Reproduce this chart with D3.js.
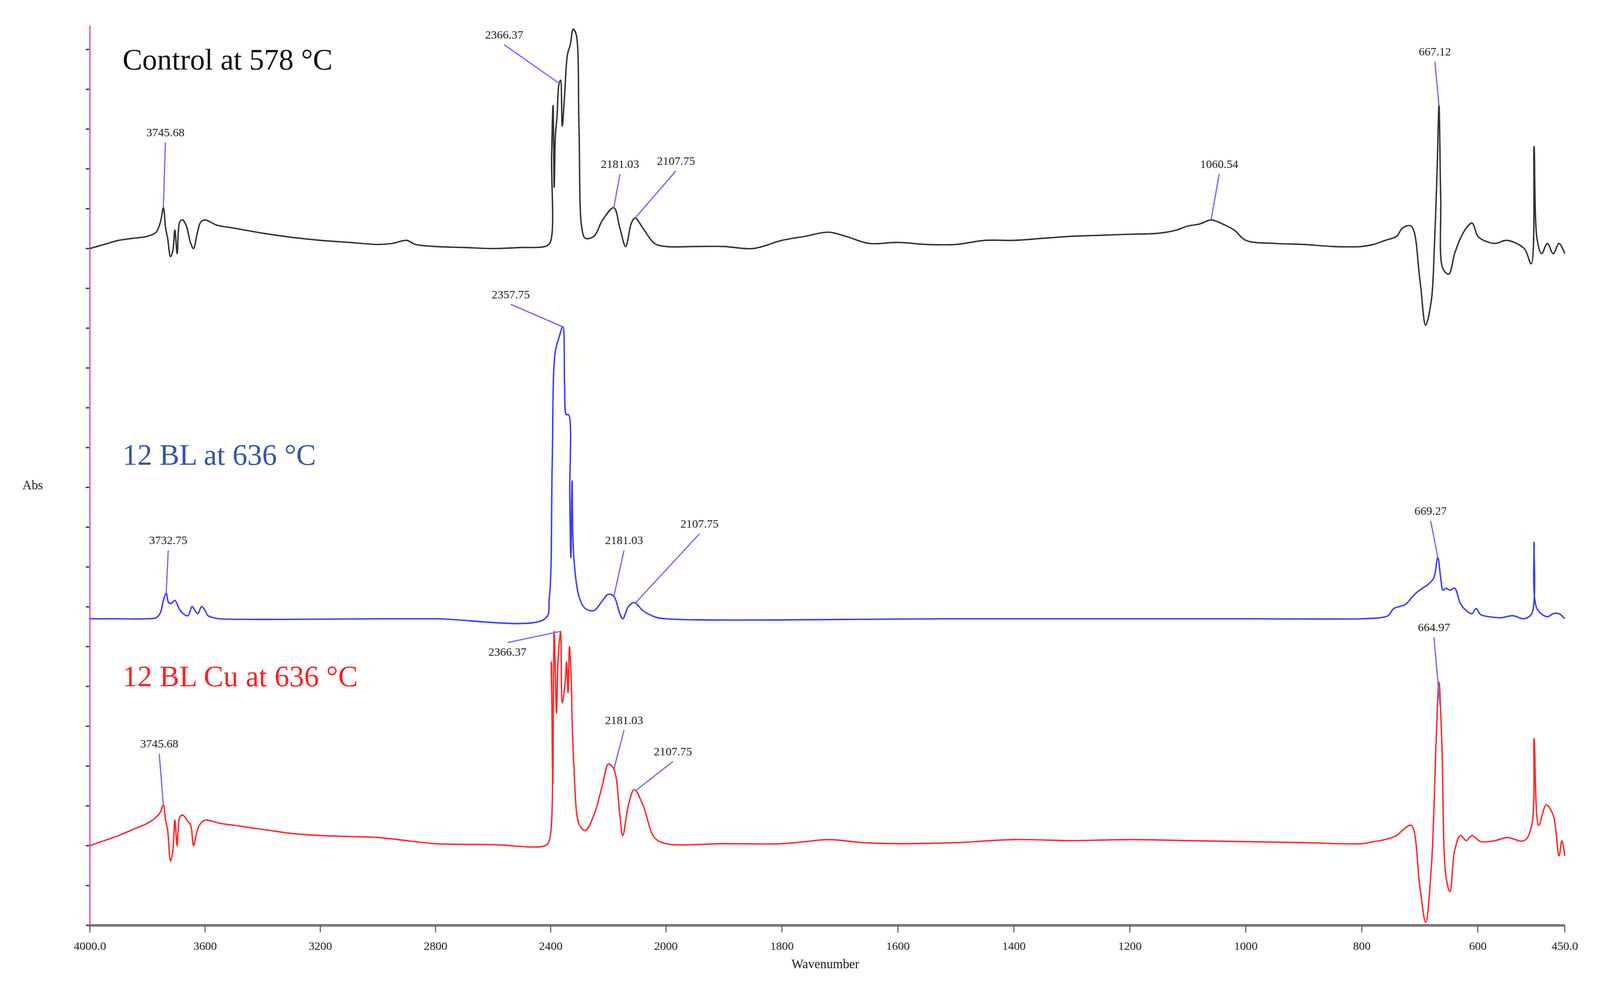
<!DOCTYPE html>
<html><head><meta charset="utf-8">
<script src="https://cdn.jsdelivr.net/npm/d3@7"></script>
<style>html,body{margin:0;background:#fff}</style></head>
<body><svg id="c" width="4168" height="2568" viewBox="0 0 1594 982"></svg>
<script>
const xTicks = [4000,3600,3200,2800,2400,2000,1800,1600,1400,1200,1000,800,600,450];
const xTickLabels = ["4000.0","3600","3200","2800","2400","2000","1800","1600","1400","1200","1000","800","600","450.0"];
const seriesNames = ["Control at 578 °C","12 BL at 636 °C","12 BL Cu at 636 °C"];
const seriesColors = ["#333333","#3b3bff","#ff2a2a"];
const seriesOffsets = [17.0, 7.7, 2.0];
// [wavenumber, absorbance above own baseline]
const controlData = [[4000,0],[3950,4],[3900,8],[3850,10],[3800,12],[3770,16],[3755,26],[3745,40],[3737,20],[3730,10],[3720,-8],[3712,-2],[3705,18],[3697,-5],[3688,26],[3678,28],[3665,22],[3650,5],[3640,0],[3628,14],[3615,26],[3600,28],[3560,23],[3500,20],[3400,15],[3300,11],[3200,8],[3100,6],[3000,4],[2950,5],[2900,8],[2870,4],[2800,2],[2700,1],[2600,0],[2500,1],[2420,2],[2402,6],[2397,90],[2392,140],[2388,60],[2384,110],[2378,130],[2372,160],[2366,165],[2360,120],[2352,150],[2342,190],[2332,200],[2322,215],[2312,210],[2302,120],[2292,20],[2280,10],[2250,12],[2220,28],[2181,40],[2160,20],[2140,2],[2120,25],[2107,30],[2080,20],[2040,5],[2000,2],[1950,2],[1900,2],[1850,0],[1800,8],[1760,12],[1720,16],[1690,12],[1650,5],[1600,6],[1550,4],[1500,4],[1450,8],[1400,8],[1350,10],[1300,12],[1250,13],[1200,14],[1150,15],[1120,18],[1100,22],[1080,24],[1060,28],[1040,24],[1020,18],[1000,8],[950,5],[900,4],[850,2],[800,2],[780,4],[760,8],[740,12],[730,20],[715,22],[700,-30],[690,-75],[680,-50],[675,0],[670,80],[667,140],[664,50],[660,-20],[650,-25],[640,-5],[630,10],[620,20],[610,25],[600,12],[590,8],[570,5],[550,8],[520,0],[508,-15],[503,100],[498,10],[490,-5],[480,5],[470,-5],[460,5],[450,-5]];
const blData = [[4000,0],[3900,0],[3800,0],[3770,1],[3755,6],[3745,18],[3735,25],[3727,16],[3718,15],[3705,18],[3690,10],[3680,6],[3660,3],[3645,12],[3635,8],[3625,5],[3612,12],[3600,8],[3590,3],[3570,1],[3550,0],[3000,0],[2800,0],[2420,0],[2405,20],[2395,150],[2385,260],[2372,275],[2358,286],[2352,230],[2346,200],[2338,200],[2334,120],[2330,60],[2326,135],[2320,60],[2300,20],[2280,10],[2250,8],[2220,18],[2200,24],[2181,22],[2160,5],[2150,0],[2130,12],[2110,16],[2080,8],[2040,2],[2000,0],[1500,0],[1000,0],[800,0],[770,1],[755,3],[745,10],[735,12],[725,14],[715,20],[705,26],[695,30],[685,34],[676,40],[669,60],[664,40],[660,28],[655,30],[648,28],[640,30],[630,15],[620,8],[610,5],[603,10],[595,4],[580,2],[560,1],[540,3],[520,0],[507,5],[503,75],[498,10],[480,2],[470,5],[460,5],[450,0]];
const cuData = [[4000,0],[3950,5],[3900,10],[3850,16],[3800,22],[3770,28],[3755,33],[3745,40],[3737,25],[3730,15],[3720,-15],[3712,-5],[3705,25],[3697,0],[3688,28],[3678,30],[3660,24],[3650,20],[3640,0],[3630,12],[3620,20],[3600,25],[3550,22],[3500,20],[3400,16],[3300,12],[3200,10],[3100,9],[3000,8],[2900,5],[2800,2],[2600,1],[2420,0],[2405,5],[2398,180],[2393,60],[2388,210],[2380,130],[2375,180],[2366,210],[2360,140],[2350,160],[2345,180],[2340,150],[2335,195],[2330,170],[2320,80],[2300,20],[2280,15],[2250,30],[2220,60],[2200,80],[2181,75],[2160,30],[2150,10],[2130,40],[2110,55],[2080,40],[2040,8],[2000,2],[1900,2],[1800,2],[1760,4],[1720,6],[1660,3],[1600,2],[1500,3],[1400,6],[1300,5],[1200,6],[1100,5],[1000,4],[900,3],[800,2],[780,4],[760,6],[740,10],[730,15],[715,20],[700,-40],[690,-75],[680,-20],[672,100],[667,160],[662,100],[655,-30],[648,-45],[640,-5],[630,10],[620,5],[610,10],[595,4],[570,5],[550,8],[520,5],[507,20],[503,105],[495,20],[482,40],[470,30],[460,-10],[455,5],[450,-10]];
const seriesData = [controlData, blData, cuData];
// peak annotations: [series index, peak wavenumber, label]
const peakLabels = [[0,3745,"3745.68"],[0,2370,"2366.37"],[0,2181,"2181.03"],[0,2107,"2107.75"],[0,1060,"1060.54"],[0,667,"667.12"],
 [1,3735,"3732.75"],[1,2358,"2357.75"],[1,2181,"2181.03"],[1,2107,"2107.75"],[1,669,"669.27"],
 [2,3745,"3745.68"],[2,2366,"2366.37"],[2,2181,"2181.03"],[2,2107,"2107.75"],[2,665,"664.97"]];
// label placement offsets (display units): dx,dy of label anchor relative to peak
const labelOffsets = [[2,-74],[-54,-48],[6,-43],[40,-56],[8,-55],[-4,-53],
 [2,-52],[-51,-32],[10,-55],[63,-78],[-7,-46],
 [-4,-60],[-52,21],[10,-48],[37,-39],[-6,-78]];

const svg = d3.select("#c");
const x = d3.scaleLinear().domain([4000,2000,450]).range([88,652,1532]);
const y = d3.scaleLinear().domain([0,22.6]).range([906,25]);
const unit = 39;

const yTicks = d3.range(0,23,1);
svg.append("g").selectAll("line").data(yTicks).join("line")
  .attr("x1",84).attr("x2",88).attr("y1",d=>y(d)).attr("y2",d=>y(d)).attr("stroke","#333").attr("stroke-width",1.3);
svg.append("line").attr("x1",88).attr("x2",88).attr("y1",25).attr("y2",906).attr("stroke","#e060c8").attr("stroke-width",1.5);
svg.append("line").attr("x1",88).attr("x2",1532).attr("y1",906).attr("y2",906).attr("stroke","#777").attr("stroke-width",2.5);
const xt = svg.append("g");
xt.selectAll("line").data(xTicks).join("line").attr("x1",d=>x(d)).attr("x2",d=>x(d)).attr("y1",906).attr("y2",913).attr("stroke","#555");
xt.selectAll("text").data(xTicks).join("text").attr("x",d=>x(d)).attr("y",930).attr("text-anchor","middle")
  .attr("font-family","Liberation Serif").attr("font-size",11.5).attr("fill","#222").text((d,i)=>xTickLabels[i]);
svg.append("text").attr("x",808).attr("y",948).attr("text-anchor","middle").attr("font-family","Liberation Serif").attr("font-size",12.5).attr("fill","#222").text("Wavenumber");
svg.append("text").attr("x",32).attr("y",479).attr("text-anchor","middle").attr("font-family","Liberation Serif").attr("font-size",12.5).attr("fill","#222").text("Abs");

const line = d3.line().x(d=>x(d[0])).curve(d3.curveMonotoneX.constructor ? d3.curveLinear : d3.curveLinear);
const lineM = d3.line().x(d=>x(d[0])).curve(d3.curveCatmullRom.alpha(0.5));
seriesData.forEach((data,i)=>{
  const off = seriesOffsets[i];
  svg.append("path").datum(data).attr("fill","none").attr("stroke",seriesColors[i]).attr("stroke-width",1.4)
    .attr("stroke-linejoin","round").attr("d", lineM.y(d=>y(off + d[1]/unit)));
});
function valAt(data, w){
  for(let k=0;k<data.length-1;k++){const a=data[k],b=data[k+1]; if(w<=a[0]&&w>=b[0]){const t=(a[0]-w)/(a[0]-b[0]); return a[1]+t*(b[1]-a[1]);}}
  return 0;
}
peakLabels.forEach((p,j)=>{
  const [si,w,lab]=p; const px=x(w), py=y(seriesOffsets[si]+valAt(seriesData[si],w)/unit);
  const [dx,dy]=labelOffsets[j];
  const lx=px+dx, ly=py+dy;
  const below = dy>0;
  svg.append("line").attr("x1",px).attr("y1",py).attr("x2",lx).attr("y2",below? ly-10 : ly+10).attr("stroke","#6a6aff").attr("stroke-width",1.2);
  svg.append("text").attr("x",lx).attr("y",below? ly+3 : ly+4).attr("text-anchor","middle").attr("font-family","Liberation Serif")
    .attr("font-size",11.5).attr("fill","#222").text(lab);
});
const titleY=[68,455,672];
seriesNames.forEach((n,i)=>{
  svg.append("text").attr("x",120).attr("y",titleY[i]).attr("font-family","Liberation Serif").attr("font-size",29)
    .attr("fill",["#111","#3355aa","#ff2020"][i]).text(n);
});
</script></body></html>
